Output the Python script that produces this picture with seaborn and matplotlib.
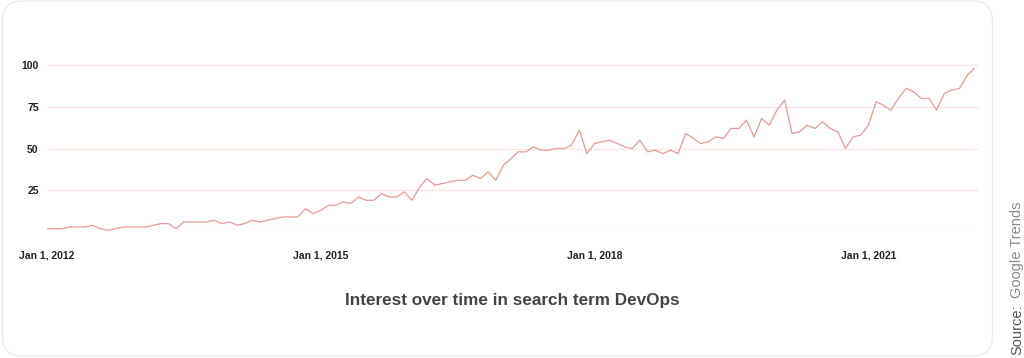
import numpy as np
import pandas as pd
import matplotlib
matplotlib.use("Agg")
import matplotlib.pyplot as plt
from matplotlib.patches import FancyBboxPatch
import seaborn as sns

# monthly Google Trends interest for "DevOps", Jan 2012 .. Mar 2022
start_month = "2012-01-01"
interest = [
    2, 2, 2, 3, 3, 3, 4, 2, 1, 2, 3, 3,
    3, 3, 4, 5, 5, 2, 6, 6, 6, 6, 7, 5,
    6, 4, 5, 7, 6, 7, 8, 9, 9, 9, 14, 11,
    13, 16, 16, 18, 17, 21, 19, 19, 23, 21, 21, 24,
    19, 27, 32, 28, 29, 30, 31, 31, 34, 32, 36, 31,
    40, 44, 48, 48, 51, 49, 49, 50, 50, 52, 61, 47,
    53, 54, 55, 53, 51, 50, 55, 48, 49, 47, 49, 47,
    59, 56, 53, 54, 57, 56, 62, 62, 67, 57, 68, 64,
    73, 79, 59, 60, 64, 62, 66, 62, 60, 50, 57, 58,
    64, 78, 76, 73, 80, 86, 84, 80, 80, 73, 83, 85,
    86, 94, 98,
]
tick_dates = ["2012-01-01", "2015-01-01", "2018-01-01", "2021-01-01"]
tick_labels = ["Jan 1, 2012", "Jan 1, 2015", "Jan 1, 2018", "Jan 1, 2021"]
y_ticks = [0, 25, 50, 75, 100]
y_labels = ["", "25", "50", "75", "100"]

df = pd.DataFrame({
    "month": pd.date_range(start_month, periods=len(interest), freq="MS"),
    "interest": interest,
})

sns.set_style("white")
plt.rcParams["font.family"] = ["Liberation Sans", "DejaVu Sans"]

fig = plt.figure(figsize=(10.24, 3.58), dpi=100)

# rounded card behind the chart
card = FancyBboxPatch((0.025, 0.02), 9.9, 3.55,
                      boxstyle="round,pad=0,rounding_size=0.2",
                      transform=fig.dpi_scale_trans,
                      facecolor="white", edgecolor="#ececec", linewidth=1.0,
                      zorder=-5)
fig.patches.append(card)

ax = fig.add_axes([0.0459, 0.352, 0.9092, 0.485])
ax.set_zorder(2)
ax.set_facecolor("none")
sns.lineplot(data=df, x="month", y="interest", ax=ax,
             color="#e99a92", linewidth=0.9)

ax.set_xlim(pd.Timestamp("2012-01-01"), pd.Timestamp("2022-03-16"))
ax.set_ylim(0, 104)
ax.set_yticks(y_ticks)
ax.set_yticklabels(y_labels)
ax.set_xticks(pd.to_datetime(tick_dates))
ax.set_xticklabels(tick_labels)

ax.grid(axis="y", color="#fbe3df", linewidth=0.8)
ax.grid(axis="x", visible=False)
ax.get_ygridlines()[0].set_color("#ececec")
ax.set_axisbelow(True)

for s in ax.spines.values():
    s.set_visible(False)
ax.tick_params(axis="both", length=0)
ax.tick_params(axis="y", pad=6, labelsize=7.5, labelcolor="#222222")
ax.tick_params(axis="x", pad=13, labelsize=7.5, labelcolor="#222222")
for lab in ax.get_xticklabels() + ax.get_yticklabels():
    lab.set_fontweight("bold")
ax.set_xlabel("")
ax.set_ylabel("")

fig.text(0.5, 1 - 300 / 358, "Interest over time in search term DevOps",
         ha="center", va="center", fontsize=12.3, fontweight="bold",
         color="#444444")

# rotated source note on the right
fig.text(1017 / 1024, 1 - 355 / 358, "Source:", rotation=90,
         rotation_mode="anchor", ha="left", va="center",
         fontsize=10.5, color="#555555")
fig.text(1017 / 1024, 1 - 298 / 358, "Google Trends", rotation=90,
         rotation_mode="anchor", ha="left", va="center",
         fontsize=10.5, color="#8a8a8a")

fig.savefig("out.png", dpi=100)
